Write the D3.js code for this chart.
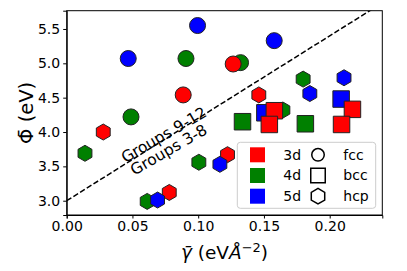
<!DOCTYPE html>
<html lang="en">
<head>
  <meta charset="UTF-8">
  <title>Phi vs gamma</title>
  <script src="https://d3js.org/d3.v7.min.js"></script>
  <style>
    body { margin: 0; background: #fff; }
    text { font-family: 'DejaVu Sans', sans-serif; fill: #000; }
    .tick text { font-size: 14px; }
    .tick line, .domain { stroke: #000; }
  </style>
</head>
<body>
  <svg width="407" height="271"></svg>

  <script>
    // The data: [gamma (eV/A^2), phi (eV)]
    const fcc3d = [[0.0886, 4.54], [0.1266, 4.99]];
    const fcc4d = [[0.0489, 4.22], [0.0907, 5.07], [0.1322, 5.01]];
    const fcc5d = [[0.0468, 5.07], [0.0995, 5.55], [0.1578, 5.33]];
    const bcc3d = [[0.1579, 4.31], [0.1541, 4.11], [0.2173, 4.33], [0.2090, 4.11]];
    const bcc4d = [[0.1337, 4.15], [0.1815, 4.12]];
    const bcc5d = [[0.1507, 4.28], [0.2087, 4.48]];
    const hcp3d = [[0.0278, 4.00], [0.0780, 3.12], [0.1223, 3.67], [0.1461, 4.54]];
    const hcp4d = [[0.0139, 3.69], [0.0612, 2.99], [0.1005, 3.56], [0.1644, 4.32], [0.1798, 4.77]];
    const hcp5d = [[0.0691, 3.01], [0.1165, 3.53], [0.1849, 4.56], [0.2109, 4.79]];

    const rows = ["3d", "4d", "5d"];
    const structures = ["fcc", "bcc", "hcp"];
    const xTicks = [0, 0.05, 0.10, 0.15, 0.20];
    const yTicks = [3.0, 3.5, 4.0, 4.5, 5.0, 5.5];
    const colors = { "3d": "red", "4d": "green", "5d": "blue" };

    // draw order
    const series = [
      { row: "4d", s: "fcc", pts: fcc4d },
      { row: "5d", s: "fcc", pts: fcc5d },
      { row: "3d", s: "fcc", pts: fcc3d },
      { row: "4d", s: "hcp", pts: hcp4d },
      { row: "3d", s: "hcp", pts: hcp3d },
      { row: "5d", s: "hcp", pts: hcp5d },
      { row: "5d", s: "bcc", pts: bcc5d },
      { row: "4d", s: "bcc", pts: bcc4d },
      { row: "3d", s: "bcc", pts: bcc3d }
    ];

    const svg = d3.select("svg");
    const margin = { top: 10.7, right: 24.7, bottom: 56, left: 66.7 };
    const width = +svg.attr("width") - margin.left - margin.right;
    const height = +svg.attr("height") - margin.top - margin.bottom;
    const g = svg.append("g").attr("transform", "translate(" + margin.left + "," + margin.top + ")");

    const x = d3.scaleLinear().domain([0, 0.24]).range([0, width]);
    const y = d3.scaleLinear().domain([2.792, 5.766]).range([height, 0]);

    svg.append("clipPath").attr("id", "clip")
      .append("rect").attr("width", width).attr("height", height);

    // Dividing line
    const line = d3.line().x(d => x(d[0])).y(d => y(d[1]));
    g.append("path")
      .datum([[0, 3], [0.24, 3 + 12 * 0.24]])
      .attr("clip-path", "url(#clip)")
      .attr("fill", "none")
      .attr("stroke", "#000")
      .attr("stroke-width", 1.5)
      .attr("stroke-dasharray", "5.5,2.4")
      .attr("d", line);

    function shape(sym, size) {
      if (sym === "fcc") return d3.symbol(d3.symbolCircle, Math.PI * size * size / 4)();
      if (sym === "bcc") return d3.symbol(d3.symbolSquare, size * size)();
      // hexagon, pointy top
      const r = size / 2;
      return d3.line()(d3.range(6).map(i => {
        const a = Math.PI / 2 + i * Math.PI / 3;
        return [r * Math.cos(a), -r * Math.sin(a)];
      })) + "Z";
    }
    const sizes = { fcc: 16, bcc: 16.5, hcp: 16 };

    series.forEach(sr => {
      g.selectAll(null)
        .data(sr.pts)
        .enter().append("path")
        .attr("d", shape(sr.s, sizes[sr.s]))
        .attr("transform", d => `translate(${x(d[0])},${y(d[1])})`)
        .attr("fill", colors[sr.row])
        .attr("stroke", "#222")
        .attr("stroke-width", 1);
    });

    // Annotations along the line
    const angle = -30;
    g.append("text")
      .attr("transform", `translate(${x(0.0740)},${y(3.955)}) rotate(${angle})`)
      .attr("text-anchor", "middle")
      .attr("dominant-baseline", "central")
      .style("font-size", "15.5px")
      .text("Groups 9-12");
    g.append("text")
      .attr("transform", `translate(${x(0.0777)},${y(3.738)}) rotate(${angle})`)
      .attr("text-anchor", "middle")
      .attr("dominant-baseline", "central")
      .style("font-size", "15.5px")
      .text("Groups 3-8");

    // Axes
    g.append("g")
      .attr("transform", `translate(0,${height})`)
      .call(d3.axisBottom(x).tickValues(xTicks).tickFormat(d3.format(".2f")).tickSizeOuter(0).tickSize(3.5));
    g.append("g")
      .call(d3.axisLeft(y).tickValues(yTicks).tickFormat(d3.format(".1f")).tickSizeOuter(0).tickSize(3.5));
    // full frame
    g.append("rect")
      .attr("width", width).attr("height", height)
      .attr("fill", "none").attr("stroke", "#000").attr("stroke-width", 1);

    // Axis labels
    const xl = svg.append("text")
      .attr("x", margin.left + width / 2)
      .attr("y", 259)
      .attr("text-anchor", "middle")
      .style("font-size", "18.5px");
    xl.append("tspan").style("font-style", "italic").text("γ\u0304");
    xl.append("tspan").text(" (eV");
    xl.append("tspan").style("font-style", "italic").text("Å");
    xl.append("tspan").attr("dy", -7).style("font-size", "13px").text("−2");
    xl.append("tspan").attr("dy", 7).text(")");

    svg.append("text")
      .attr("transform", `translate(33,${margin.top + height / 2}) rotate(-90)`)
      .attr("text-anchor", "middle")
      .style("font-size", "19.5px")
      .text("Φ\u0304 (eV)");

    // Legend
    const lg = g.append("g").attr("transform", `translate(${237.3 - margin.left},${142.3 - margin.top})`);
    lg.append("rect")
      .attr("width", 138.4).attr("height", 66)
      .attr("rx", 3)
      .attr("fill", "#fff").attr("fill-opacity", 0.8)
      .attr("stroke", "#ccc").attr("stroke-width", 1);
    rows.forEach((r, i) => {
      const cy = 12.5 + i * 20.7;
      lg.append("rect")
        .attr("x", 12.7).attr("y", cy - 7.5)
        .attr("width", 15).attr("height", 15)
        .attr("fill", colors[r]);
      lg.append("text")
        .attr("x", 46).attr("y", cy)
        .attr("dominant-baseline", "central")
        .style("font-size", "14px")
        .text(r);
    });
    const legSizes = { fcc: 12.5, bcc: 14.5, hcp: 15.5 };
    structures.forEach((s, i) => {
      const cy = 12.5 + i * 20.7;
      lg.append("path")
        .attr("d", shape(s, legSizes[s]))
        .attr("transform", `translate(80.7,${cy})`)
        .attr("fill", "none")
        .attr("stroke", "#000")
        .attr("stroke-width", 1.5);
      lg.append("text")
        .attr("x", 106).attr("y", cy)
        .attr("dominant-baseline", "central")
        .style("font-size", "14px")
        .text(s);
    });
  </script>
</body>
</html>
